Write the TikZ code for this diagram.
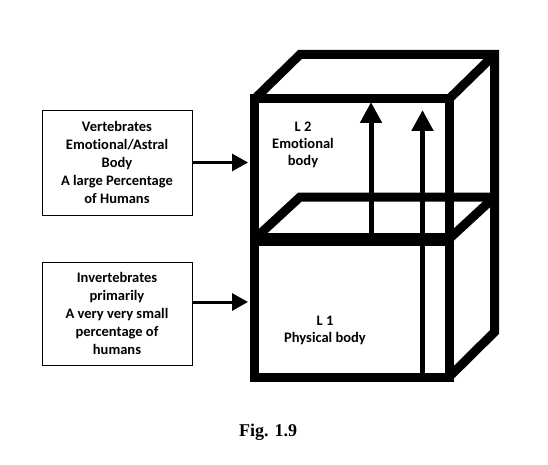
\documentclass[tikz,border=0pt]{standalone}
\usepackage{fontspec}
\setmainfont{Carlito}[Ligatures=NoCommon]
\newfontfamily\figfont{Liberation Serif}
\usetikzlibrary{arrows.meta}
\begin{document}
\begin{tikzpicture}[x=1pt,y=-1pt,
  edge/.style={line width=9pt,line join=miter},
  infobox/.style={draw,line width=0.9pt,minimum width=150pt,align=center,inner sep=0pt,
    font=\bfseries\fontsize{14.5}{18}\selectfont},
  label/.style={align=center,font=\bfseries\fontsize{14.5}{17}\selectfont},
  riser/.style={line width=5pt,-{Triangle[width=21pt,length=21pt]}},
  feed/.style={line width=3pt,-{Triangle[width=17pt,length=16pt]}}]
\useasboundingbox (0,0) rectangle (548,465);
% cube outline
\draw[edge] (254.5,99) -- (300,54.5) -- (494.5,54.5) -- (494.5,332) -- (449,377);
\draw[edge] (449,99) -- (494.5,54.5);
\draw[edge] (254.5,99) rectangle (449,377);
\draw[edge] (254.5,237) -- (449,237);
\draw[edge] (254.5,241) -- (449,241);
\draw[edge] (254.5,239) -- (300,197) -- (494.5,197);
\draw[edge] (449,239) -- (494.5,197);
% vertical arrows
\coordinate (a1s) at (371,237);
\coordinate (a1t) at (371,102);
\coordinate (a2s) at (422.5,377);
\coordinate (a2t) at (422.5,110);
\draw[riser] (a1s) -- (a1t);
\draw[riser] (a2s) -- (a2t);
% cube labels
\node[label] (l2) at (303,145) {L 2\\Emotional\\body};
\node[label] (l1) at (325,330) {L 1\\Physical body};
% side boxes
\node[infobox,minimum height=105pt] (b1) at (117,162.5)
  {Vertebrates\\Emotional/Astral\\Body\\A large Percentage\\of Humans};
\node[infobox,minimum height=103pt] (b2) at (117,313.5)
  {Invertebrates\\primarily\\A very very small\\percentage of\\humans};
\coordinate (t1) at (248,162.5);
\coordinate (t2) at (248,302);
\draw[feed] (b1.east) -- (t1);
\draw[feed] (b2.east |- t2) -- (t2);
% caption
\node[font=\figfont\bfseries\fontsize{18}{20}\selectfont] (cap) at (268,432) {Fig. 1.9};
\end{tikzpicture}
\end{document}
